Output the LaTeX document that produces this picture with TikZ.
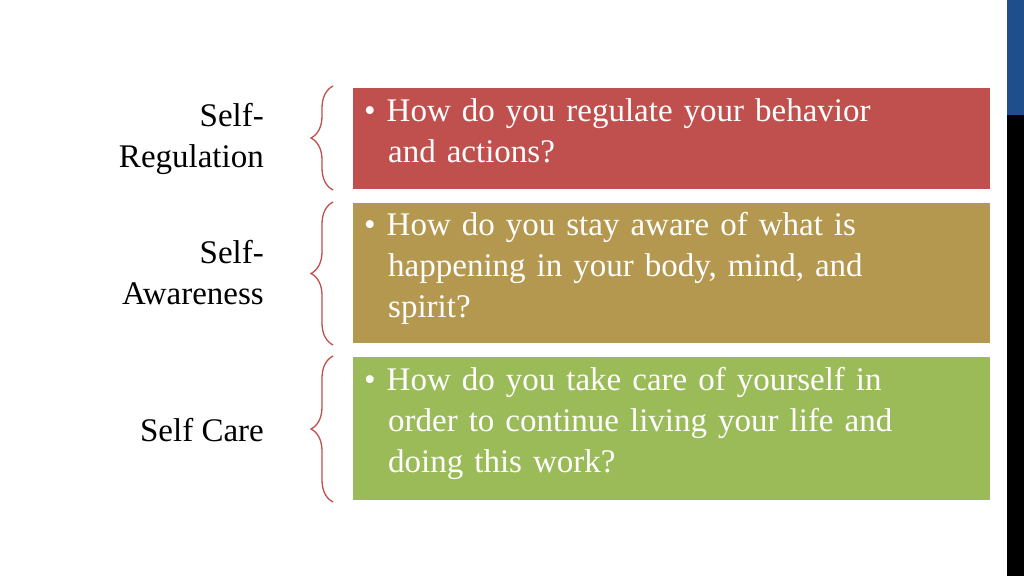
\documentclass[tikz,border=0pt]{standalone}
\usepackage{fontspec}
\setmainfont{Liberation Serif}
\usetikzlibrary{decorations.pathreplacing}
\definecolor{cred}{HTML}{C0504D}
\definecolor{ctan}{HTML}{B5984F}
\definecolor{cgreen}{HTML}{9BBB59}
\definecolor{cblue}{HTML}{1F4E8C}
\begin{document}
\begin{tikzpicture}[x=1pt,y=-1pt,
  qbox/.style={anchor=north west,text=white,font=\fontsize{33}{41}\selectfont,align=left,inner sep=0pt,text width=590pt},
  lbl/.style={anchor=east,align=right,font=\fontsize{33}{41}\selectfont,inner sep=0pt},
  br/.style={draw=cred,line width=1.3pt,decorate,decoration={brace,amplitude=22pt,mirror}}]
\useasboundingbox (0,0) rectangle (1024,576);
\fill[white] (0,0) rectangle (1024,576);
\fill[cblue] (1007,0) rectangle (1024,115);
\fill[black] (1007,115) rectangle (1024,576);
\fill[cred] (353,88) rectangle (990,189);
\fill[ctan] (353,203) rectangle (990,343);
\fill[cgreen] (353,357) rectangle (990,500);
\node[qbox] (q1) at (364,98) {\textbullet\ How do you regulate your behavior\\\hspace*{24pt}and actions?};
\node[qbox] (q2) at (364,212) {\textbullet\ How do you stay aware of what is\\\hspace*{24pt}happening in your body, mind, and\\\hspace*{24pt}spirit?};
\node[qbox] (q3) at (364,367) {\textbullet\ How do you take care of yourself in\\\hspace*{24pt}order to continue living your life and\\\hspace*{24pt}doing this work?};
\node[lbl] (l1) at (264,139) {Self-\\Regulation};
\node[lbl] (l2) at (264,273) {Self-\\Awareness};
\node[lbl] (l3) at (264,430) {Self Care};
\coordinate (a1) at (333,86); \coordinate (b1) at (333,190);
\coordinate (a2) at (333,202); \coordinate (b2) at (333,345);
\coordinate (a3) at (333,356); \coordinate (b3) at (333,502);
\draw[br] (a1) -- (b1);
\draw[br] (a2) -- (b2);
\draw[br] (a3) -- (b3);
\end{tikzpicture}
\end{document}
